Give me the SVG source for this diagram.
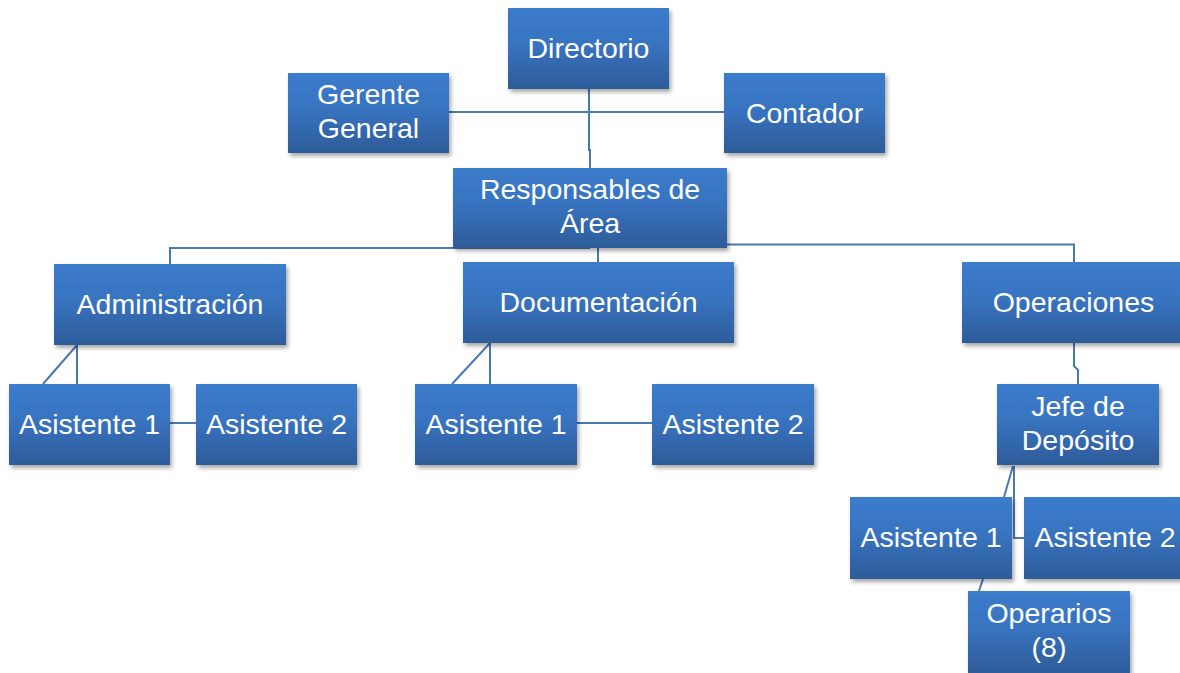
<svg xmlns="http://www.w3.org/2000/svg" width="1180" height="673" viewBox="0 0 1180 673">
<defs>
<linearGradient id="g" x1="0" y1="0" x2="0" y2="1">
<stop offset="0" stop-color="#3b7ccc"/>
<stop offset="0.45" stop-color="#3873c0"/>
<stop offset="1" stop-color="#2d5c99"/>
</linearGradient>
<filter id="sh" x="-10%" y="-10%" width="125%" height="130%">
<feDropShadow dx="2" dy="3" stdDeviation="2" flood-color="#000" flood-opacity="0.35"/>
</filter>
<style>
.b{fill:url(#g);filter:url(#sh)}
.t{font-family:"Liberation Sans",Arial,sans-serif;font-size:28.5px;fill:#fff;text-anchor:middle}
.c{fill:none;stroke:#4a78b4;stroke-width:2}
</style>
</defs>
<rect width="1180" height="673" fill="#fff"/>
<g id="connectors" class="c">
<path d="M589,89 V150 H590 V168"/>
<path d="M449,112 H724"/>
<path d="M590,248 H170 V264"/>
<path d="M727,244.5 H1074 V262"/>
<path d="M598,248 V262"/>
<path d="M77,345 V384 M77,345 L43,384"/>
<path d="M170,423 H196"/>
<path d="M490,343 V384 M490,343 L452,384"/>
<path d="M577,423 H652"/>
<path d="M1074,343 V366 L1078,370 V384"/>
<path d="M1013,466 L1004,497 M1014,466 V538 H1024"/>
<path d="M983,579 L979,591"/>
</g>
<g id="directorio"><rect class="b" x="508" y="8" width="161" height="81"/><text class="t" x="588.5" y="58">Directorio</text></g>
<g id="gerente"><rect class="b" x="288" y="73" width="161" height="80"/><text class="t"><tspan x="368.5" y="104">Gerente</tspan><tspan x="368.5" y="138">General</tspan></text></g>
<g id="contador"><rect class="b" x="724" y="73" width="161" height="80"/><text class="t" x="804.5" y="123">Contador</text></g>
<g id="responsables"><rect class="b" x="453" y="168" width="274" height="80"/><text class="t"><tspan x="590" y="199">Responsables de</tspan><tspan x="590" y="233">Área</tspan></text></g>
<g id="administracion"><rect class="b" x="54" y="264" width="232" height="81"/><text class="t" x="170" y="314">Administración</text></g>
<g id="documentacion"><rect class="b" x="463" y="262" width="271" height="81"/><text class="t" x="598.5" y="312">Documentación</text></g>
<g id="operaciones"><rect class="b" x="962" y="262" width="223" height="81"/><text class="t" x="1073.5" y="312">Operaciones</text></g>
<g id="adm-asistente1"><rect class="b" x="9" y="384" width="161" height="81"/><text class="t" x="89.5" y="434">Asistente 1</text></g>
<g id="adm-asistente2"><rect class="b" x="196" y="384" width="161" height="81"/><text class="t" x="276.5" y="434">Asistente 2</text></g>
<g id="doc-asistente1"><rect class="b" x="415" y="384" width="162" height="81"/><text class="t" x="496" y="434">Asistente 1</text></g>
<g id="doc-asistente2"><rect class="b" x="652" y="384" width="162" height="81"/><text class="t" x="733" y="434">Asistente 2</text></g>
<g id="jefe"><rect class="b" x="997" y="384" width="162" height="81"/><text class="t"><tspan x="1078" y="416">Jefe de</tspan><tspan x="1078" y="450">Depósito</tspan></text></g>
<g id="ops-asistente1"><rect class="b" x="850" y="497" width="162" height="82"/><text class="t" x="931" y="547">Asistente 1</text></g>
<g id="ops-asistente2"><rect class="b" x="1024" y="497" width="162" height="82"/><text class="t" x="1105" y="547">Asistente 2</text></g>
<g id="operarios"><rect class="b" x="968" y="591" width="162" height="82"/><text class="t"><tspan x="1049" y="623">Operarios</tspan><tspan x="1049" y="657">(8)</tspan></text></g>
</svg>
